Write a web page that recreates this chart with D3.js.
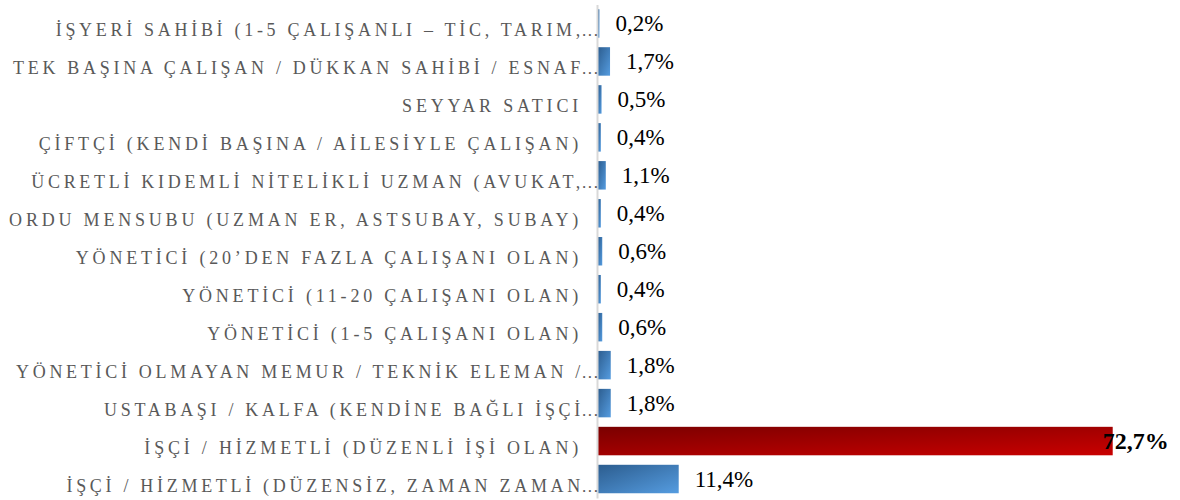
<!DOCTYPE html>
<html>
<head>
<meta charset="utf-8">
<script src="https://cdn.jsdelivr.net/npm/d3@7"></script>
<style>
  body { margin: 0; background: #fff; }
  svg { display: block; }
</style>
</head>
<body>
<div id="chart"></div>
<script>
// categories top to bottom, "..." = label cut off in the original
var categories = [
  "İŞYERİ SAHİBİ (1-5 ÇALIŞANLI – TİC, TARIM,...",
  "TEK BAŞINA ÇALIŞAN / DÜKKAN SAHİBİ / ESNAF...",
  "SEYYAR SATICI",
  "ÇİFTÇİ (KENDİ BAŞINA / AİLESİYLE ÇALIŞAN)",
  "ÜCRETLİ KIDEMLİ NİTELİKLİ UZMAN (AVUKAT,...",
  "ORDU MENSUBU (UZMAN ER, ASTSUBAY, SUBAY)",
  "YÖNETİCİ (20’DEN FAZLA ÇALIŞANI OLAN)",
  "YÖNETİCİ (11-20 ÇALIŞANI OLAN)",
  "YÖNETİCİ (1-5 ÇALIŞANI OLAN)",
  "YÖNETİCİ OLMAYAN MEMUR / TEKNİK ELEMAN /...",
  "USTABAŞI / KALFA (KENDİNE BAĞLI İŞÇİ...",
  "İŞÇİ / HİZMETLİ (DÜZENLİ İŞİ OLAN)",
  "İŞÇİ / HİZMETLİ (DÜZENSİZ, ZAMAN ZAMAN..."
];
var values = [0.2, 1.7, 0.5, 0.4, 1.1, 0.4, 0.6, 0.4, 0.6, 1.8, 1.8, 72.7, 11.4];

var data = categories.map(function (c, i) { return { cat: c, value: values[i] }; });
var maxVal = d3.max(values);

var width = 1180, height = 500;
var axisX = 597;
var serif = "'Liberation Serif', 'Times New Roman', serif";

var x = d3.scaleLinear().domain([0, 80]).range([axisX + 1, axisX + 1 + 566.4]);
var y = d3.scaleBand().domain(categories).range([4.5, 498]).paddingInner(0.25).paddingOuter(0.125);

var svg = d3.select("#chart").append("svg")
  .attr("width", width).attr("height", height);

var defs = svg.append("defs");
var gBlue = defs.append("linearGradient").attr("id", "gradBlue")
  .attr("x1", 0).attr("y1", 0).attr("x2", 1).attr("y2", 1);
gBlue.append("stop").attr("offset", "0%").attr("stop-color", "#2c5d8f");
gBlue.append("stop").attr("offset", "100%").attr("stop-color", "#559ce0");
var gRed = defs.append("linearGradient").attr("id", "gradRed")
  .attr("x1", 0).attr("y1", 0).attr("x2", 1).attr("y2", 1);
gRed.append("stop").attr("offset", "0%").attr("stop-color", "#7a0000");
gRed.append("stop").attr("offset", "100%").attr("stop-color", "#c90000");

// bars
svg.append("g").selectAll("rect").data(data).enter().append("rect")
  .attr("x", x(0))
  .attr("y", function (d) { return y(d.cat); })
  .attr("width", function (d) { return x(d.value) - x(0); })
  .attr("height", y.bandwidth())
  .attr("fill", function (d) { return d.value === maxVal ? "url(#gradRed)" : "url(#gradBlue)"; });

// category axis
var yAxis = d3.axisLeft(y).tickSize(0).tickSizeOuter(0).tickFormat("");
var ax = svg.append("g").attr("transform", "translate(" + axisX + ",0)").call(yAxis);
ax.select(".domain").attr("stroke", "#d9d9d9").attr("stroke-width", 2);
ax.selectAll(".tick text").remove();

ax.selectAll(".tick").each(function (d) {
  var g = d3.select(this);
  var cut = d.endsWith("...");
  var txt = cut ? d.slice(0, -3) : d;
  g.append("text")
    .attr("x", cut ? -13 : -15)
    .attr("y", 13)
    .attr("text-anchor", "end")
    .attr("fill", "#595959")
    .style("font-family", serif)
    .style("font-size", "18px")
    .style("letter-spacing", cut ? "3.7px" : "3.8px")
    .text(txt);
  if (cut) {
    // excel-style ellipsis after the clipped label
    g.append("text")
      .attr("x", -15)
      .attr("y", 13)
      .attr("text-anchor", "start")
      .attr("fill", "#595959")
      .style("font-family", serif)
      .style("font-size", "17px")
      .style("letter-spacing", "1.6px")
      .text("...");
  }
});

// value labels
var fmt = function (v) { return d3.format(".1f")(v).replace(".", ",") + "%"; };
svg.append("g").selectAll("text").data(data).enter().append("text")
  .attr("x", function (d) { return d.value === maxVal ? x(d.value) - 10 : x(d.value) + 16; })
  .attr("y", function (d) { return y(d.cat) + y.bandwidth() / 2 + 8; })
  .attr("fill", "#000")
  .style("font-family", serif)
  .style("font-size", function (d) { return d.value === maxVal ? "24px" : "23px"; })
  .style("font-weight", function (d) { return d.value === maxVal ? "bold" : "normal"; })
  .text(function (d) { return fmt(d.value); });
</script>
</body>
</html>
